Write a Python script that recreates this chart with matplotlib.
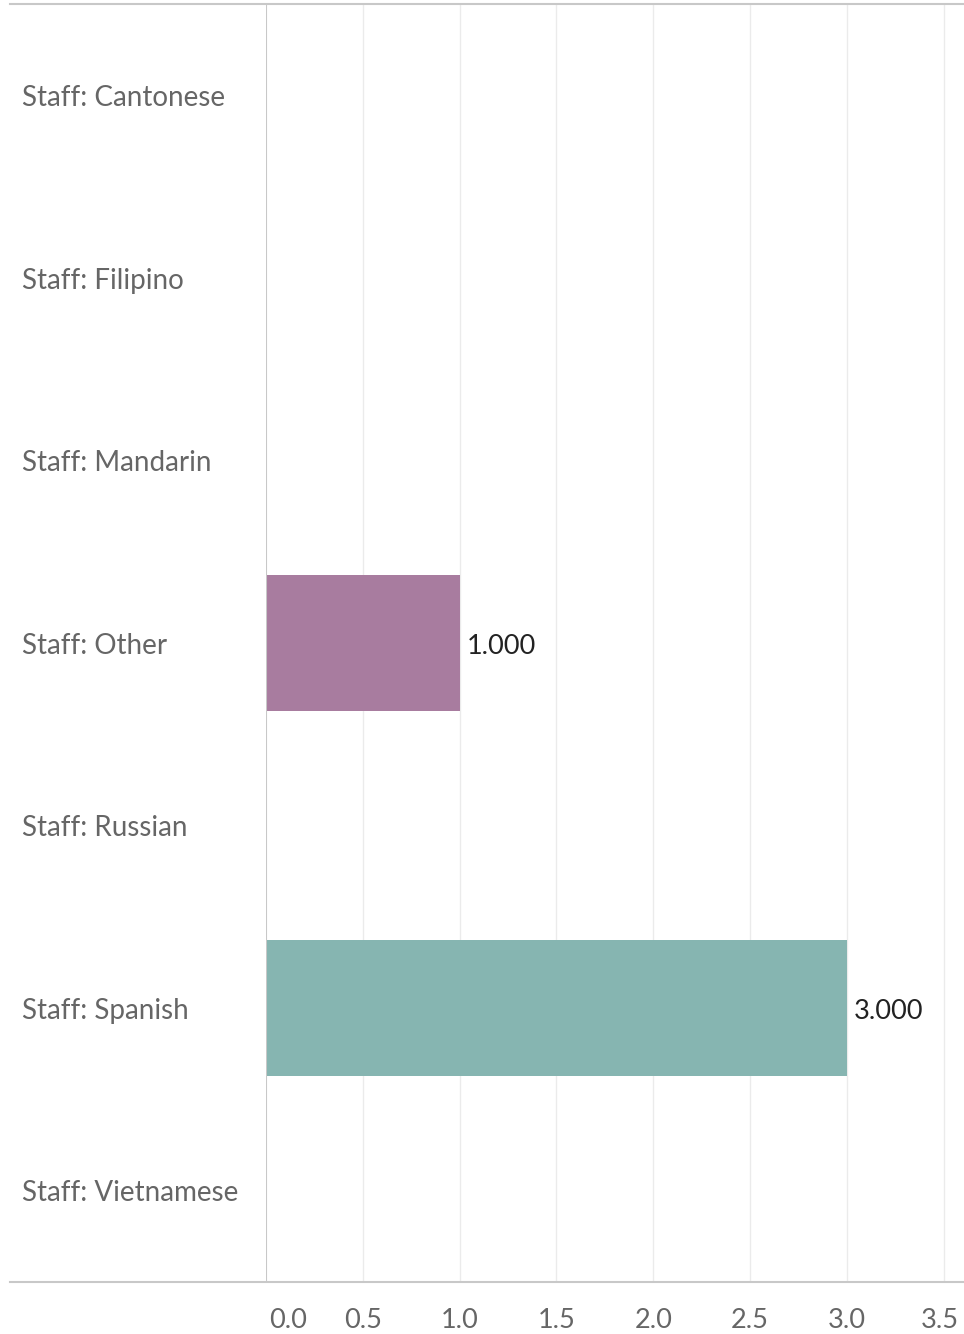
import matplotlib
matplotlib.use("Agg")
import matplotlib.pyplot as plt
from matplotlib.lines import Line2D

categories = ["Staff: Cantonese", "Staff: Filipino", "Staff: Mandarin", "Staff: Other",
              "Staff: Russian", "Staff: Spanish", "Staff: Vietnamese"]
values = [0, 0, 0, 1, 0, 3, 0]
bar_colors = ["#A87C9F", "#A87C9F", "#A87C9F", "#A87C9F", "#86B5B1", "#86B5B1", "#86B5B1"]
ticks = [0.0, 0.5, 1.0, 1.5, 2.0, 2.5, 3.0, 3.5]
tick_labels = ["0.0", "0.5", "1.0", "1.5", "2.0", "2.5", "3.0", "3.5"]

plt.rcParams['font.family'] = ['Lato', 'DejaVu Sans']

W, H = 964, 1334
fig = plt.figure(figsize=(W / 100, H / 100), dpi=100)
ax = fig.add_axes([266 / W, 1 - 1282 / H, (963 - 266) / W, (1282 - 4) / H])

y = list(range(len(categories)))
ax.barh(y, values, height=0.745, color=bar_colors, zorder=3)
ax.set_ylim(len(categories) - 0.5, -0.5)
ax.set_xlim(0, 3.6)

row_h = 1278 / 7
for yi, v in zip(y, values):
    if v > 0:
        ax.text(v + 0.037, yi + 10.5 / row_h, f"{v:.3f}", va="baseline", ha="left",
                fontsize=19.5, color="#222222", zorder=4)

for t in ticks[1:]:
    ax.axvline(t, color="#EBEBEB", lw=1, zorder=1)

ax.set_xticks([])
ax.set_yticks([])
for s in ax.spines.values():
    s.set_visible(False)
ax.axvline(0, color="#C8C8C8", lw=1.5, zorder=5)

# category labels
for yi, c in zip(y, categories):
    fig.text(22 / W, 1 - (4 + (yi + 0.5) * row_h + 10.7) / H, c, ha="left", va="baseline",
             fontsize=20, color="#666666")

# tick labels
for t, lab in zip(ticks, tick_labels):
    xp = 266 + t * (963 - 266) / 3.6
    if t == 0:
        xp = 288
    if t == 3.5:
        xp = 940
    fig.text(xp / W, 1 - 1328 / H, lab, ha="center", va="baseline", fontsize=19.5, color="#666666")

# border lines
fig.add_artist(Line2D([10 / W, 1], [1 - 4 / H, 1 - 4 / H], color="#C8C8C8", lw=1.5))
fig.add_artist(Line2D([10 / W, 1], [1 - 1282 / H, 1 - 1282 / H], color="#C8C8C8", lw=1.5))

fig.savefig("out.png", dpi=100, facecolor="white")
